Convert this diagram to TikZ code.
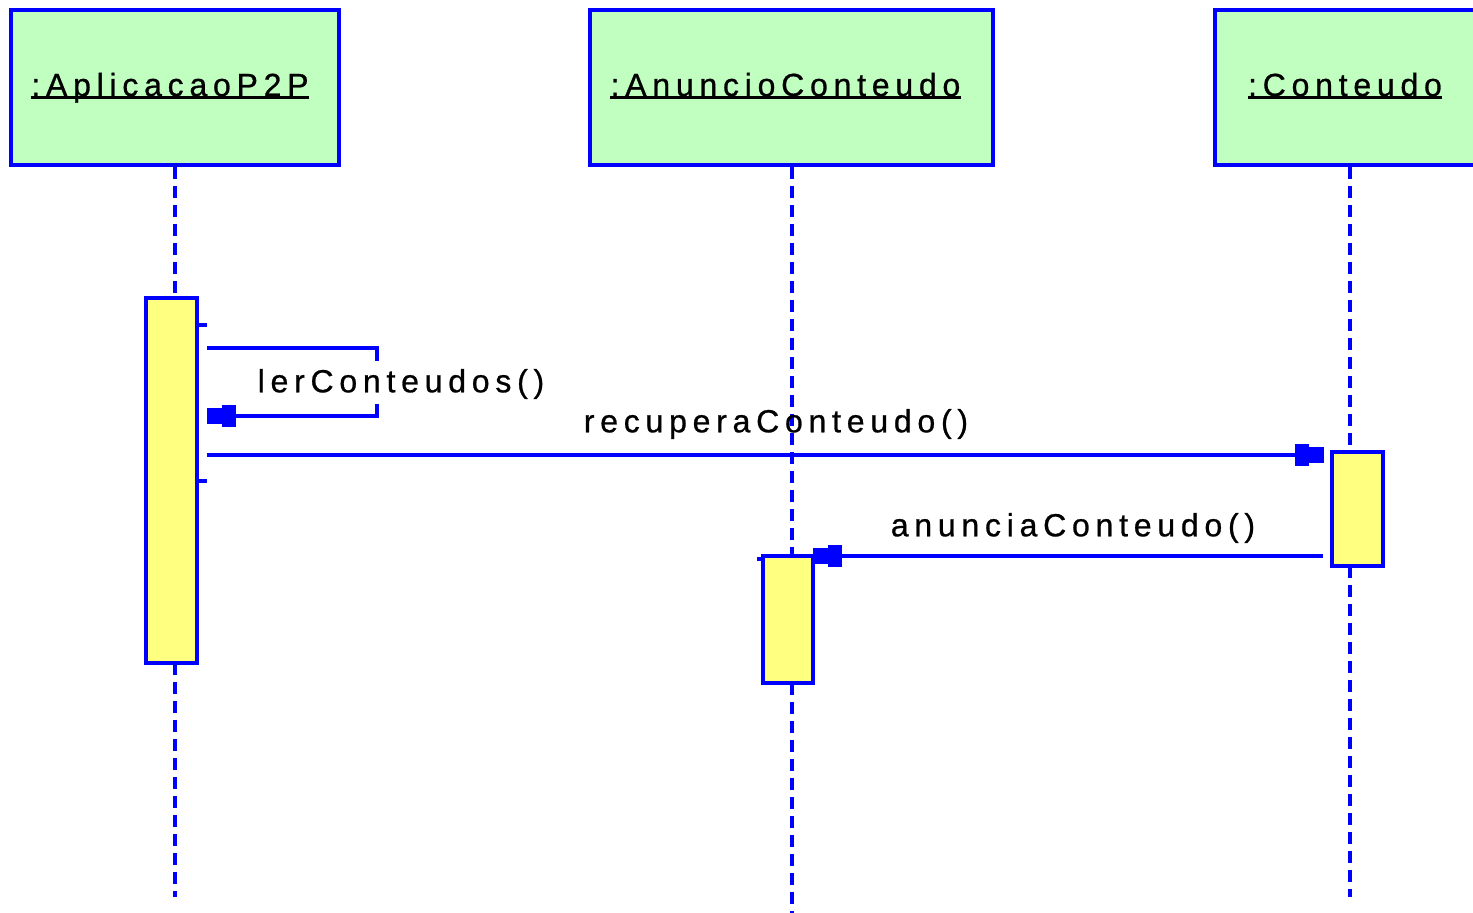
\documentclass[tikz,border=0pt]{standalone}
\usepackage{fontspec}
\setmainfont{Liberation Sans}
\newfontfamily\lblfont[LetterSpace=18,FakeBold=0.8]{Liberation Sans}
\usetikzlibrary{arrows.meta}
\definecolor{umlblue}{HTML}{0000FF}
\definecolor{objgreen}{HTML}{C0FFC0}
\definecolor{actyellow}{HTML}{FFFF80}
\begin{document}
\begin{tikzpicture}[x=0.5pt,y=-0.5pt,
  obj/.style={draw=umlblue,fill=objgreen,line width=1.8pt,inner sep=0pt,minimum height=77.5pt},
  act/.style={draw=umlblue,fill=actyellow,line width=1.8pt,inner sep=0pt,minimum width=25.5pt},
  title/.style={font=\lblfont\fontsize{16}{19}\selectfont,inner sep=0pt},
  lbl/.style={font=\lblfont\fontsize{16}{19}\selectfont,inner sep=0pt},
  life/.style={umlblue,line width=1.8pt,dash pattern=on 6pt off 3.5pt},
  ln/.style={umlblue,line width=1.6pt},
  sqtip/.pic={
    \fill[umlblue] (-29,-11) rectangle (-15,11);
    \fill[umlblue] (-15,-8) rectangle (0,8);
  }
]
\path[use as bounding box] (0,0) rectangle (1473,913);

% objects
\node[obj,minimum width=164pt] (o1) at (175,87.5) {};
\node[obj,minimum width=201.5pt] (o2) at (791.5,87.5) {};
\node[obj,minimum width=132.5pt] (o3) at (1347.5,87.5) {};

\node[title,anchor=base] (t1) at (170,96) {:AplicacaoP2P};
\node[title,anchor=base] (t2) at (785.5,96) {:AnuncioConteudo};
\node[title,anchor=base] (t3) at (1345,96) {:Conteudo};
\foreach \t in {t1,t2,t3}{
  \draw[black,line width=1.2pt] ([yshift=-0.8pt]\t.base west) -- ([yshift=-0.8pt]\t.base east);
}

% activations
\node[act,minimum height=182.5pt] (a1) at (171.5,480.5) {};
\node[act,minimum height=57pt] (a3) at (1357.5,509) {};
\node[act,minimum width=25pt,minimum height=63.5pt] (a2) at (788,619.5) {};

% lifelines
\coordinate (l1a) at (175,298);
\coordinate (l1b) at (175,663);
\coordinate (l1e) at (175,897);
\coordinate (l2a) at (792,556);
\coordinate (l2b) at (792,683);
\coordinate (l2e) at (792,913);
\coordinate (l3a) at (1350,452);
\coordinate (l3b) at (1350,566);
\coordinate (l3e) at (1350,897);
\draw[life] (o1.south) -- (l1a);
\draw[life] (l1b) -- (l1e);
\draw[life] (o2.south -| l2a) -- (l2a);
\draw[life] (l2b) -- (l2e);
\draw[life] (o3.south -| l3a) -- (l3a);
\draw[life] (l3b) -- (l3e);

% small ticks
\coordinate (k1a) at (197,325); \coordinate (k1b) at (207,325);
\coordinate (k2a) at (197,481); \coordinate (k2b) at (207,481);
\coordinate (k3a) at (757,559); \coordinate (k3b) at (763,559);
\draw[ln] (k1a) -- (k1b);
\draw[ln] (k2a) -- (k2b);
\draw[ln] (k3a) -- (k3b);

% self message
\coordinate (s0) at (207,348);
\coordinate (s1) at (377,348);
\coordinate (s2) at (377,361);
\coordinate (s3) at (377,404);
\coordinate (s4) at (377,416);
\coordinate (s5) at (207,416);
\draw[ln] (s0) -- (s1) -- (s2);
\draw[ln] (s3) -- (s4) -- (s5);
\pic[xscale=-1] at (s5) {sqtip};
\node[lbl] (m1) at (401,384) {lerConteudos()};

% recuperaConteudo
\coordinate (r0) at (207,455);
\coordinate (r1) at (1324,455);
\draw[ln] (r0) -- (r1);
\pic at (r1) {sqtip};
\node[lbl] (m2) at (776,424) {recuperaConteudo()};

% anunciaConteudo
\coordinate (n0) at (1323,556);
\coordinate (n1) at (813,556);
\draw[ln] (n0) -- (n1);
\pic[xscale=-1] at (n1) {sqtip};
\node[lbl] (m3) at (1073,528) {anunciaConteudo()};
\end{tikzpicture}
\end{document}
